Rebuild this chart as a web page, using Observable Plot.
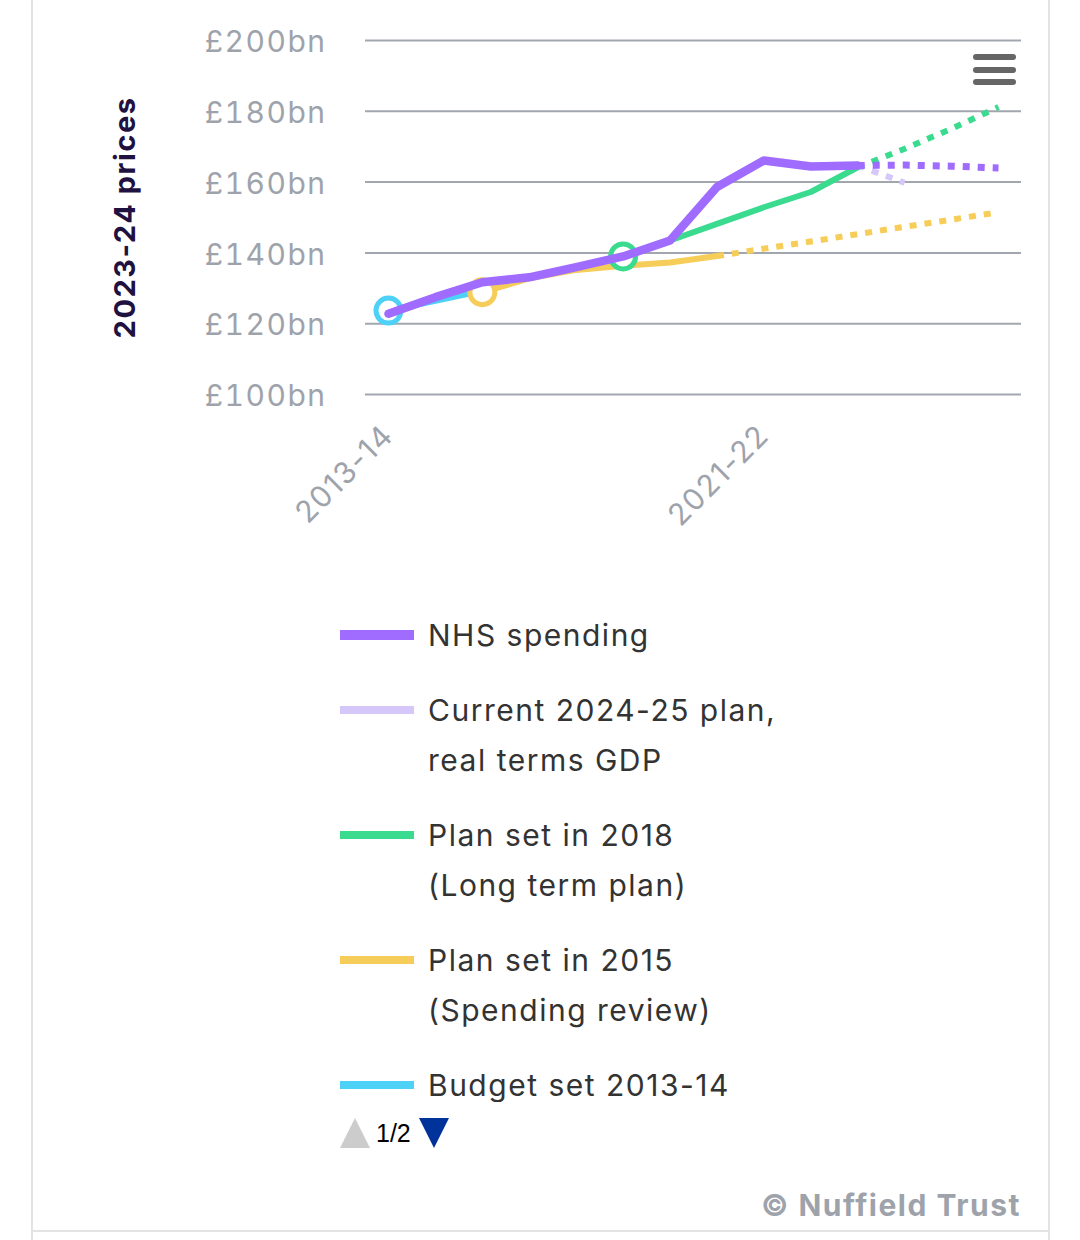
<!DOCTYPE html>
<html>
<head>
<meta charset="utf-8">
<script src="https://cdn.jsdelivr.net/npm/d3@7"></script>
<script src="https://cdn.jsdelivr.net/npm/@observablehq/plot@0.6"></script>
<style>
  html, body { margin: 0; padding: 0; background: #fff; }
  body { width: 1080px; height: 1240px; position: relative; overflow: hidden; font-family: Inter, "Noto Sans", sans-serif; }
  #frame { position: absolute; left: 31px; top: -4px; width: 1015px; height: 1234px;
           border-left: 2px solid #e3e3e3; border-right: 2px solid #e3e3e3; border-bottom: 2px solid #e3e3e3; }
  #frame-tail { position: absolute; left: 31px; top: 1232px; width: 1015px; height: 10px;
           border-left: 2px solid #e3e3e3; border-right: 2px solid #e3e3e3; }
  #chart { position: absolute; left: 0; top: 0; }
  #menu { position: absolute; left: 973px; top: 54px; width: 43px; }
  #menu span { display: block; height: 6px; border-radius: 3px; background: #666; margin-bottom: 6.5px; }
  #legend { position: absolute; left: 340px; top: 610px; width: 600px; height: 492px; overflow: hidden; }
  .item { display: flex; align-items: flex-start; margin-bottom: 25px; }
  .swatch { width: 74px; height: 8px; margin-top: 21px; margin-right: 14px; flex: none; }
  .label { font-size: 30px; line-height: 50px; color: #333; letter-spacing: 1.5px; }
  #nav { position: absolute; left: 340px; top: 1118px; display: flex; align-items: center; height: 30px; }
  #nav .up { width: 0; height: 0; border-left: 15px solid transparent; border-right: 15px solid transparent; border-bottom: 30px solid #cccccc; }
  #nav .down { width: 0; height: 0; border-left: 15px solid transparent; border-right: 15px solid transparent; border-top: 30px solid #003399; }
  #nav .page { font-size: 25px; color: #000; margin: 0 8px 0 6px; font-family: "Liberation Sans", Arial, sans-serif; }
  #credits { position: absolute; right: 59px; top: 1187px; font-size: 30px; font-weight: 700; color: #9ea3ab; letter-spacing: 1.5px; }
</style>
</head>
<body>
<div id="frame"></div>
<div id="frame-tail"></div>
<div id="chart"></div>
<div id="menu"><span></span><span></span><span></span></div>
<div id="legend"></div>
<div id="nav"><div class="up"></div><div class="page">1/2</div><div class="down"></div></div>
<div id="credits">© Nuffield Trust</div>
<script>
// Financial years on the category axis
const years = ["2013-14", "2014-15", "2015-16", "2016-17", "2017-18", "2018-19", "2019-20",
               "2020-21", "2021-22", "2022-23", "2023-24", "2024-25", "2025-26", "2026-27"];
const xTickLabels = ["2013-14", "2021-22"];
const yTicks = [100, 120, 140, 160, 180, 200];

// NHS spending, £bn in 2023-24 prices
const nhsSpending = [122.8, 127.5, 131.7, 133.1, 136.0, 139.0, 143.5, 158.6, 166.1, 164.4, 164.7]; // 2013-14 → 2023-24
const nhsSpendingPlanned = [164.7, 164.8, 164.5, 164.0];                                          // 2023-24 → 2026-27
// Current 2024-25 plan, real terms GDP
const currentPlan = [164.7, 159.8];                                                               // 2023-24 → 2024-25
// Plan set in 2018 (Long term plan)
const plan2018 = [139.0, 143.5, 148.2, 152.9, 157.2, 164.2];                                      // 2018-19 → 2023-24
const plan2018Projected = [164.2, 169.4, 175.1, 181.2];                                           // 2023-24 → 2026-27
// Plan set in 2015 (Spending review)
const plan2015 = [128.9, 132.8, 135.2, 136.4, 137.3, 139.1];                                      // 2015-16 → 2020-21
const plan2015Projected = [139.1, 141.2, 143.2, 145.3, 147.4, 149.4, 151.5];                      // 2020-21 → 2026-27
// Budget set 2013-14
const budget2013 = [123.7, 126.5, 129.3];                                                         // 2013-14 → 2015-16

const colors = {
  nhs: "#a06bff",
  current: "#d5c7fa",
  plan2018: "#3adb8f",
  plan2015: "#f5cd58",
  budget: "#4dd1f6"
};

const legendItems = [
  {name: "NHS spending", color: colors.nhs, thick: 10},
  {name: "Current 2024-25 plan,<br>real terms GDP", color: colors.current, thick: 8},
  {name: "Plan set in 2018<br>(Long term plan)", color: colors.plan2018, thick: 8},
  {name: "Plan set in 2015<br>(Spending review)", color: colors.plan2015, thick: 8},
  {name: "Budget set 2013-14", color: colors.budget, thick: 8}
];

function rows(startYear, values) {
  const s = years.indexOf(startYear);
  return values.map((value, i) => ({year: years[s + i], value}));
}

const nhsRows = rows("2013-14", nhsSpending);
const nhsPlanRows = rows("2023-24", nhsSpendingPlanned);
const currentRows = rows("2023-24", currentPlan);
const p2018Rows = rows("2018-19", plan2018);
const p2018ProjRows = rows("2023-24", plan2018Projected);
const p2015Rows = rows("2015-16", plan2015);
const p2015ProjRows = rows("2020-21", plan2015Projected);
const budgetRows = rows("2013-14", budget2013);

const gray = "#9ea3ab";
const dotted = {strokeDasharray: "7,8", strokeLinecap: "butt"};
const line = (data, stroke, strokeWidth, extra = {}) =>
  Plot.line(data, {x: "year", y: "value", stroke, strokeWidth, strokeLinejoin: "round", strokeLinecap: "round", ...extra});
const ring = (row, stroke) =>
  Plot.dot([row], {x: "year", y: "value", r: 12.5, stroke, strokeWidth: 5, fill: "white"});

const chart = Plot.plot({
  width: 1080,
  height: 560,
  marginLeft: 365,
  marginRight: 59,
  marginTop: 40,
  marginBottom: 166,
  style: {fontFamily: "Inter, 'Noto Sans', sans-serif", background: "transparent", overflow: "visible", letterSpacing: "1.5px"},
  x: {type: "point", domain: years, padding: 0.49, round: false},
  y: {domain: [100, 200]},
  marks: [
    Plot.ruleY(yTicks, {stroke: "#a2a7af", strokeWidth: 2}),
    Plot.axisY({ticks: yTicks, tickSize: 0, tickPadding: 39, dy: 2, tickFormat: d => `£${d}bn`, fontSize: 30, color: gray, label: null}),
    Plot.axisX({ticks: xTickLabels, tickSize: 0, tickPadding: 36, tickRotate: -45, fontSize: 30, color: gray, label: null}),
    Plot.text(["2023-24 prices"], {frameAnchor: "left", dx: -240, rotate: -90, textAnchor: "middle", fontSize: 29, fontWeight: 700, fill: "#1f1140"}),
    line(budgetRows, colors.budget, 6),
    ring(budgetRows[0], colors.budget),
    line(p2015ProjRows, colors.plan2015, 6, dotted),
    line(p2015Rows, colors.plan2015, 6),
    ring(p2015Rows[0], colors.plan2015),
    line(p2018ProjRows, colors.plan2018, 6, dotted),
    line(p2018Rows, colors.plan2018, 6),
    ring(p2018Rows[0], colors.plan2018),
    line(currentRows, colors.current, 6, dotted),
    line(nhsPlanRows, colors.nhs, 7, dotted),
    line(nhsRows, colors.nhs, 8.5)
  ]
});
document.getElementById("chart").append(chart);

const legend = document.getElementById("legend");
for (const item of legendItems) {
  const div = document.createElement("div");
  div.className = "item";
  div.innerHTML = `<div class="swatch" style="background:${item.color};height:${item.thick}px;margin-top:${25 - item.thick / 2}px"></div><div class="label">${item.name}</div>`;
  legend.append(div);
}
</script>
</body>
</html>
